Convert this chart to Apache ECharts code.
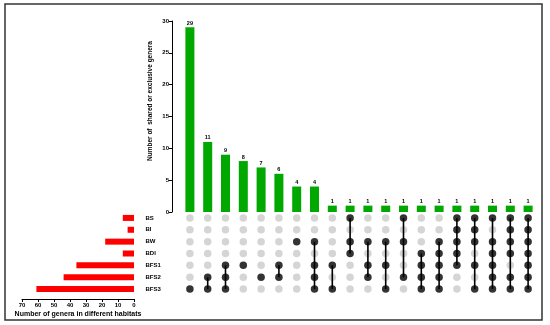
<!DOCTYPE html>
<html><head><meta charset="utf-8">
<script src="https://cdn.jsdelivr.net/npm/echarts@6/dist/echarts.min.js"></script>
<style>html,body{margin:0;padding:0;background:#fff}#c{width:550px;height:325px}</style>
</head><body><div id="c"></div>
<script>
// ---- data ----
const setNames = ['BS','BI','BW','BDI','BFS1','BFS2','BFS3'];
const setSizes = [7, 4, 18, 7, 36, 44, 61];
const intersectionSizes = [29,11,9,8,7,6,4,4,1,1,1,1,1,1,1,1,1,1,1,1];
const intersectionMembers = [
  ['BFS3'],
  ['BFS2','BFS3'],
  ['BFS1','BFS2','BFS3'],
  ['BFS1'],
  ['BFS2'],
  ['BFS1','BFS2'],
  ['BW'],
  ['BW','BFS1','BFS2','BFS3'],
  ['BFS1','BFS3'],
  ['BS','BW','BDI'],
  ['BW','BFS1','BFS2'],
  ['BW','BFS1','BFS3'],
  ['BS','BW','BFS2'],
  ['BDI','BFS1','BFS2','BFS3'],
  ['BW','BDI','BFS1','BFS2','BFS3'],
  ['BS','BI','BW','BDI','BFS1'],
  ['BS','BI','BW','BFS1','BFS3'],
  ['BS','BW','BDI','BFS1','BFS2','BFS3'],
  ['BS','BI','BW','BDI','BFS2','BFS3'],
  ['BS','BI','BW','BDI','BFS1','BFS2','BFS3']
];
const yTicks = [0,5,10,15,20,25,30];
const xTicksLeft = [0,10,20,30,40,50,60,70];

// ---- build ----
const cols = intersectionSizes.map((_, i) => 'c' + i);
const grayPts = [], blackPts = [], segs = [];
intersectionMembers.forEach((m, i) => {
  const idx = m.map(s => setNames.indexOf(s));
  setNames.forEach((s, r) => {
    if (idx.includes(r)) blackPts.push([i, r]); else grayPts.push([i, r]);
  });
  if (idx.length > 1) segs.push([i, Math.min(...idx), Math.max(...idx)]);
});

const FONT = 'Liberation Sans, Arial, sans-serif';
const chart = echarts.init(document.getElementById('c'), null, {renderer: 'canvas'});
chart.setOption({
  animation: false,
  backgroundColor: '#fff',
  textStyle: {fontFamily: FONT},
  grid: [
    {left: 181, top: 21, width: 356, height: 191},
    {left: 181, top: 212, width: 356, height: 83},
    {left: 22, top: 212, width: 112, height: 83}
  ],
  xAxis: [
    {gridIndex: 0, type: 'category', data: cols, show: false},
    {gridIndex: 1, type: 'category', data: cols, show: false},
    {gridIndex: 2, type: 'value', inverse: true, min: 0, max: 70, interval: 10, offset: 4,
     axisLine: {show: true, lineStyle: {color: '#000', width: 1}},
     axisTick: {show: true, length: 3, lineStyle: {color: '#000'}},
     axisLabel: {fontSize: 6, fontWeight: 'bold', color: '#000', margin: 3,
       formatter: v => xTicksLeft.includes(v) ? String(v) : ''},
     splitLine: {show: false},
     name: 'Number of genera in different habitats', nameLocation: 'middle', nameGap: 12,
     nameTextStyle: {fontSize: 7, fontWeight: 'bold', color: '#000'}}
  ],
  yAxis: [
    {gridIndex: 0, type: 'value', min: 0, max: 30, interval: 5, offset: 9,
     axisLine: {show: true, lineStyle: {color: '#000', width: 1}},
     axisTick: {show: true, length: 3, lineStyle: {color: '#000'}},
     axisLabel: {fontSize: 6, fontWeight: 'bold', color: '#000', margin: 3,
       formatter: v => yTicks.includes(v) ? String(v) : ''},
     splitLine: {show: false}},
    {gridIndex: 1, type: 'category', data: setNames, inverse: true,
     axisLine: {show: false}, axisTick: {show: false},
     axisLabel: {fontSize: 6, fontWeight: 'bold', color: '#000', align: 'left', margin: 35.5}},
    {gridIndex: 2, type: 'category', data: setNames, inverse: true, show: false}
  ],
  graphic: [
    {type: 'rect', shape: {x: 5, y: 4, width: 537, height: 316},
     style: {fill: 'none', stroke: '#333', lineWidth: 1.5}, z: 100},
    {type: 'text', x: 150, y: 101, rotation: Math.PI / 2,
     style: {text: 'Number of  shared or exclusive genera', fontSize: 6.5, fontWeight: 'bold',
       fill: '#000', align: 'center', verticalAlign: 'middle', fontFamily: FONT}}
  ],
  series: [
    {type: 'bar', xAxisIndex: 0, yAxisIndex: 0, data: intersectionSizes, barWidth: 9,
     itemStyle: {color: '#00a800'},
     label: {show: true, position: 'top', distance: 1, fontSize: 5.5, fontWeight: 'bold', color: '#000'}},
    {type: 'scatter', xAxisIndex: 1, yAxisIndex: 1, data: grayPts, symbolSize: 7.5,
     itemStyle: {color: '#cacaca'}, z: 2},
    {type: 'custom', xAxisIndex: 1, yAxisIndex: 1, data: segs, z: 3,
     renderItem: (params, api) => {
       const a = api.coord([api.value(0), api.value(1)]);
       const b = api.coord([api.value(0), api.value(2)]);
       return {type: 'line', shape: {x1: a[0], y1: a[1], x2: b[0], y2: b[1]},
         style: {stroke: '#000', lineWidth: 1.6}};
     }, encode: {x: 0, y: [1, 2]}},
    {type: 'scatter', xAxisIndex: 1, yAxisIndex: 1, data: blackPts, symbolSize: 7.5,
     itemStyle: {color: '#000'}, z: 4},
    {type: 'bar', xAxisIndex: 2, yAxisIndex: 2, data: setSizes, barWidth: 6,
     itemStyle: {color: '#ff0000'}}
  ]
});
</script></body></html>
